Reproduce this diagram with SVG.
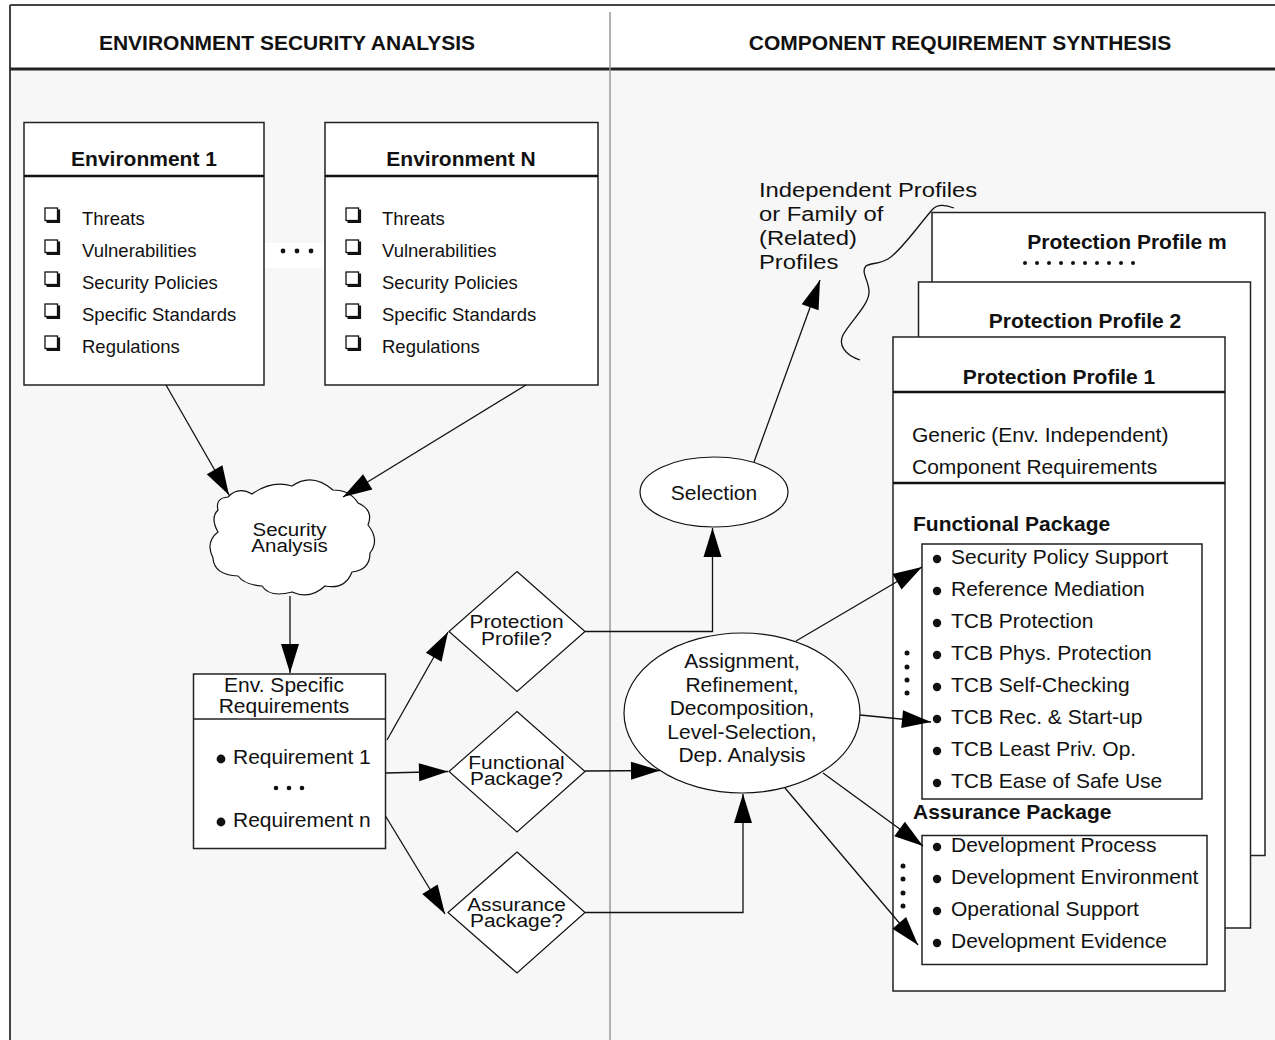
<svg xmlns="http://www.w3.org/2000/svg" width="1275" height="1040" viewBox="0 0 1275 1040">
  <style>
    text { font-family: "Liberation Sans", Arial, Helvetica, sans-serif; fill: #111; }
    .hdr { font-size: 21px; font-weight: bold; text-anchor: middle; }
    .ttl { font-size: 21px; font-weight: bold; text-anchor: middle; }
    .sub { font-size: 21px; font-weight: bold; }
    .itm { font-size: 18.5px; }
    .t21 { font-size: 21px; }
    .mid { text-anchor: middle; }
    .dia { font-size: 19px; text-anchor: middle; }
    .lbl { font-size: 20px; }
    .box { fill: #fff; stroke: #222; stroke-width: 1.5; }
    .shape { fill: #fff; stroke: #111; stroke-width: 1.2; }
    .rule { stroke: #111; stroke-width: 2.5; }
    .conn { fill: none; stroke: #111; stroke-width: 1.3; }
    .dot { fill: #111; }
  </style>
  <defs>
    <marker id="arrow" markerUnits="userSpaceOnUse" markerWidth="30" markerHeight="20" refX="29" refY="9" orient="auto" overflow="visible">
      <path d="M0,0 L29,9 L0,18 Z" fill="#000"/>
    </marker>
    <!-- shadowed check box -->
    <g id="chk">
      <rect x="0" y="0" width="12.5" height="12.5" fill="#fff" stroke="#111" stroke-width="1.3"/>
      <path d="M1.5,13.8 H13.8 V1.5" fill="none" stroke="#111" stroke-width="2.6"/>
    </g>
  </defs>

  <!-- page frame -->
  <rect x="0" y="0" width="1275" height="1040" fill="#fff"/>
  <rect x="10" y="71" width="1265" height="969" fill="#f7f7f7"/>
  <path d="M10,5 H1275 M10,5 V1040" fill="none" stroke="#444" stroke-width="2"/>
  <rect x="10" y="67.5" width="1265" height="3" fill="#222"/>
  <line x1="610" y1="12" x2="610" y2="1040" stroke="#999" stroke-width="1.5"/>
  <text class="hdr" x="287" y="50">ENVIRONMENT SECURITY ANALYSIS</text>
  <text class="hdr" x="960" y="50">COMPONENT REQUIREMENT SYNTHESIS</text>

  <!-- Environment 1 -->
  <g id="env1">
    <rect class="box" x="24" y="122.5" width="240" height="262.5"/>
    <line class="rule" x1="24" y1="176" x2="264" y2="176"/>
    <text class="ttl" x="144" y="166">Environment 1</text>
    <use href="#chk" x="45" y="208"/>
    <use href="#chk" x="45" y="240"/>
    <use href="#chk" x="45" y="272"/>
    <use href="#chk" x="45" y="304"/>
    <use href="#chk" x="45" y="336"/>
    <text class="itm" x="82" y="225">Threats</text>
    <text class="itm" x="82" y="257">Vulnerabilities</text>
    <text class="itm" x="82" y="289">Security Policies</text>
    <text class="itm" x="82" y="321">Specific Standards</text>
    <text class="itm" x="82" y="353">Regulations</text>
  </g>

  <!-- ellipsis between environments -->
  <g id="env-dots">
    <rect x="265" y="243" width="59" height="25" fill="#fff"/>
    <circle class="dot" cx="283" cy="251" r="2.4"/>
    <circle class="dot" cx="297" cy="251" r="2.4"/>
    <circle class="dot" cx="311" cy="251" r="2.4"/>
  </g>

  <!-- Environment N -->
  <g id="envN">
    <rect class="box" x="325" y="122.5" width="273" height="262.5"/>
    <line class="rule" x1="325" y1="176" x2="598" y2="176"/>
    <text class="ttl" x="461" y="166">Environment N</text>
    <use href="#chk" x="346" y="208"/>
    <use href="#chk" x="346" y="240"/>
    <use href="#chk" x="346" y="272"/>
    <use href="#chk" x="346" y="304"/>
    <use href="#chk" x="346" y="336"/>
    <text class="itm" x="382" y="225">Threats</text>
    <text class="itm" x="382" y="257">Vulnerabilities</text>
    <text class="itm" x="382" y="289">Security Policies</text>
    <text class="itm" x="382" y="321">Specific Standards</text>
    <text class="itm" x="382" y="353">Regulations</text>
  </g>

  <!-- Security Analysis cloud -->
  <g id="security-analysis">
    <path class="shape" d="M228,497 Q238,486 252,494 Q272,480 292,486 Q312,472 333,490 Q350,490 358,503 Q374,510 368,525 Q380,540 370,553 Q370,570 352,572 Q345,590 325,586 Q310,600 292,592 Q270,598 262,586 Q245,585 238,576 Q214,575 213,558 Q205,542 218,532 Q210,518 218,510 Q215,498 228,497 Z"/>
    <g transform="translate(289.5,0) scale(1.08,1)">
      <text class="dia" x="0" y="536">Security</text>
      <text class="dia" x="0" y="552">Analysis</text>
    </g>
  </g>

  <!-- Env. Specific Requirements -->
  <g id="env-requirements">
    <rect class="box" x="193.5" y="674" width="192" height="174.5"/>
    <line x1="193.5" y1="719" x2="385.5" y2="719" stroke="#222" stroke-width="1.5"/>
    <text class="t21 mid" x="284" y="692">Env. Specific</text>
    <text class="t21 mid" x="284" y="713">Requirements</text>
    <circle class="dot" cx="221" cy="759" r="4.4"/>
    <text class="t21" x="233" y="764">Requirement 1</text>
    <circle class="dot" cx="276" cy="788" r="2.3"/>
    <circle class="dot" cx="289" cy="788" r="2.3"/>
    <circle class="dot" cx="302" cy="788" r="2.3"/>
    <circle class="dot" cx="221" cy="822" r="4.4"/>
    <text class="t21" x="233" y="827">Requirement n</text>
  </g>

  <!-- decision diamonds -->
  <g id="dec-profile">
    <polygon class="shape" points="517,571.5 585,631.5 517,691.5 449,631.5"/>
    <g transform="translate(516.5,0) scale(1.1,1)">
      <text class="dia" x="0" y="628.5">Protection</text>
      <text class="dia" x="0" y="645">Profile?</text>
    </g>
  </g>
  <g id="dec-functional">
    <polygon class="shape" points="517,711.5 585,771.5 517,832 449,771.5"/>
    <g transform="translate(516.5,0) scale(1.1,1)">
      <text class="dia" x="0" y="769">Functional</text>
      <text class="dia" x="0" y="785.5">Package?</text>
    </g>
  </g>
  <g id="dec-assurance">
    <polygon class="shape" points="517,852 585,912.5 517,973 448,912.5"/>
    <g transform="translate(516.5,0) scale(1.1,1)">
      <text class="dia" x="0" y="911">Assurance</text>
      <text class="dia" x="0" y="927.5">Package?</text>
    </g>
  </g>

  <!-- Selection -->
  <g id="selection">
    <ellipse class="shape" cx="714" cy="492" rx="74" ry="35"/>
    <text class="t21 mid" x="714" y="500">Selection</text>
  </g>

  <!-- Assignment / refinement process -->
  <g id="synthesis">
    <ellipse class="shape" cx="742" cy="713" rx="118" ry="80"/>
    <text class="t21 mid" x="742" y="668">Assignment,</text>
    <text class="t21 mid" x="742" y="691.5">Refinement,</text>
    <text class="t21 mid" x="742" y="715">Decomposition,</text>
    <text class="t21 mid" x="742" y="738.5">Level-Selection,</text>
    <text class="t21 mid" x="742" y="762">Dep. Analysis</text>
  </g>

  <!-- profile family label (wide lettering) -->
  <g id="profiles-label" transform="translate(759,0) scale(1.19,1)">
    <text class="lbl" x="0" y="197.5">Independent Profiles</text>
    <text class="lbl" x="0" y="221.5">or Family of</text>
    <text class="lbl" x="0" y="245.5">(Related)</text>
    <text class="lbl" x="0" y="269">Profiles</text>
  </g>

  <!-- Protection Profile m -->
  <g id="pp-m">
    <rect class="box" x="932" y="212.5" width="333" height="643"/>
    <text class="ttl" x="1127" y="249">Protection Profile m</text>
    <circle class="dot" cx="1025" cy="263" r="2"/>
    <circle class="dot" cx="1037" cy="263" r="2"/>
    <circle class="dot" cx="1049" cy="263" r="2"/>
    <circle class="dot" cx="1061" cy="263" r="2"/>
    <circle class="dot" cx="1073" cy="263" r="2"/>
    <circle class="dot" cx="1085" cy="263" r="2"/>
    <circle class="dot" cx="1097" cy="263" r="2"/>
    <circle class="dot" cx="1109" cy="263" r="2"/>
    <circle class="dot" cx="1121" cy="263" r="2"/>
    <circle class="dot" cx="1133" cy="263" r="2"/>
  </g>

  <!-- Protection Profile 2 -->
  <g id="pp-2">
    <rect class="box" x="918.5" y="282" width="332" height="646"/>
    <text class="ttl" x="1085" y="327.5">Protection Profile 2</text>
  </g>

  <!-- Protection Profile 1 -->
  <g id="pp-1">
    <rect class="box" x="893" y="337" width="332" height="654"/>
    <text class="ttl" x="1059" y="383.5">Protection Profile 1</text>
    <line class="rule" x1="893" y1="392" x2="1225" y2="392"/>
    <text class="t21" x="912" y="442">Generic (Env. Independent)</text>
    <text class="t21" x="912" y="473.5">Component Requirements</text>
    <line class="rule" x1="893" y1="483" x2="1225" y2="483"/>

    <text class="sub" x="913" y="531">Functional Package</text>
    <rect class="box" x="922" y="544" width="280" height="255" stroke-width="1.3"/>
    <g id="functional-items">
      <circle class="dot" cx="937" cy="559" r="4.2"/>
      <text class="t21" x="951" y="563.5">Security Policy Support</text>
      <circle class="dot" cx="937" cy="591" r="4.2"/>
      <text class="t21" x="951" y="595.5">Reference Mediation</text>
      <circle class="dot" cx="937" cy="623" r="4.2"/>
      <text class="t21" x="951" y="627.5">TCB Protection</text>
      <circle class="dot" cx="937" cy="655" r="4.2"/>
      <text class="t21" x="951" y="659.5">TCB Phys. Protection</text>
      <circle class="dot" cx="937" cy="687" r="4.2"/>
      <text class="t21" x="951" y="691.5">TCB Self-Checking</text>
      <circle class="dot" cx="937" cy="719" r="4.2"/>
      <text class="t21" x="951" y="723.5">TCB Rec. &amp; Start-up</text>
      <circle class="dot" cx="937" cy="751" r="4.2"/>
      <text class="t21" x="951" y="755.5">TCB Least Priv. Op.</text>
      <circle class="dot" cx="937" cy="783" r="4.2"/>
      <text class="t21" x="951" y="787.5">TCB Ease of Safe Use</text>
    </g>
    <circle class="dot" cx="907" cy="653" r="2.5"/>
    <circle class="dot" cx="907" cy="667" r="2.5"/>
    <circle class="dot" cx="907" cy="680" r="2.5"/>
    <circle class="dot" cx="907" cy="693" r="2.5"/>

    <text class="sub" x="913" y="819">Assurance Package</text>
    <rect class="box" x="922" y="835.5" width="285" height="129" stroke-width="1.3"/>
    <g id="assurance-items">
      <circle class="dot" cx="937" cy="847" r="4.2"/>
      <text class="t21" x="951" y="851.5">Development Process</text>
      <circle class="dot" cx="937" cy="879" r="4.2"/>
      <text class="t21" x="951" y="883.5">Development Environment</text>
      <circle class="dot" cx="937" cy="911" r="4.2"/>
      <text class="t21" x="951" y="915.5">Operational Support</text>
      <circle class="dot" cx="937" cy="943" r="4.2"/>
      <text class="t21" x="951" y="947.5">Development Evidence</text>
    </g>
    <circle class="dot" cx="903" cy="866" r="2.5"/>
    <circle class="dot" cx="903" cy="879" r="2.5"/>
    <circle class="dot" cx="903" cy="893" r="2.5"/>
    <circle class="dot" cx="903" cy="906" r="2.5"/>
  </g>

  <!-- connectors -->
  <g id="connectors">
    <line class="conn" x1="166" y1="385" x2="229" y2="495" marker-end="url(#arrow)"/>
    <line class="conn" x1="526" y1="385" x2="343" y2="497" marker-end="url(#arrow)"/>
    <line class="conn" x1="290" y1="596" x2="290" y2="673" marker-end="url(#arrow)"/>
    <line class="conn" x1="387" y1="740" x2="448" y2="632" marker-end="url(#arrow)"/>
    <line class="conn" x1="385.5" y1="773" x2="448" y2="771.5" marker-end="url(#arrow)"/>
    <line class="conn" x1="385.5" y1="816" x2="445" y2="914" marker-end="url(#arrow)"/>
    <polyline class="conn" points="585,631.5 712.5,631.5 712.5,528" marker-end="url(#arrow)"/>
    <line class="conn" x1="754" y1="462" x2="820" y2="280" marker-end="url(#arrow)"/>
    <line class="conn" x1="585" y1="771" x2="660" y2="770.5" marker-end="url(#arrow)"/>
    <polyline class="conn" points="585,912.5 743,912.5 743,794" marker-end="url(#arrow)"/>
    <line class="conn" x1="796" y1="641" x2="922" y2="567" marker-end="url(#arrow)"/>
    <line class="conn" x1="860" y1="715" x2="931" y2="722" marker-end="url(#arrow)"/>
    <line class="conn" x1="823" y1="773" x2="923" y2="846" marker-end="url(#arrow)"/>
    <line class="conn" x1="785" y1="788" x2="918" y2="945" marker-end="url(#arrow)"/>
    <!-- brace grouping the profile stack -->
    <path class="conn" d="M954,208 C944,204 936,205 932,210 C918,226 900,252 888,259 C880,264 870,263 866,266 C860,272 870,282 869,293 C868,306 850,322 843,335 C838,345 845,355 860,360"/>
  </g>
</svg>
